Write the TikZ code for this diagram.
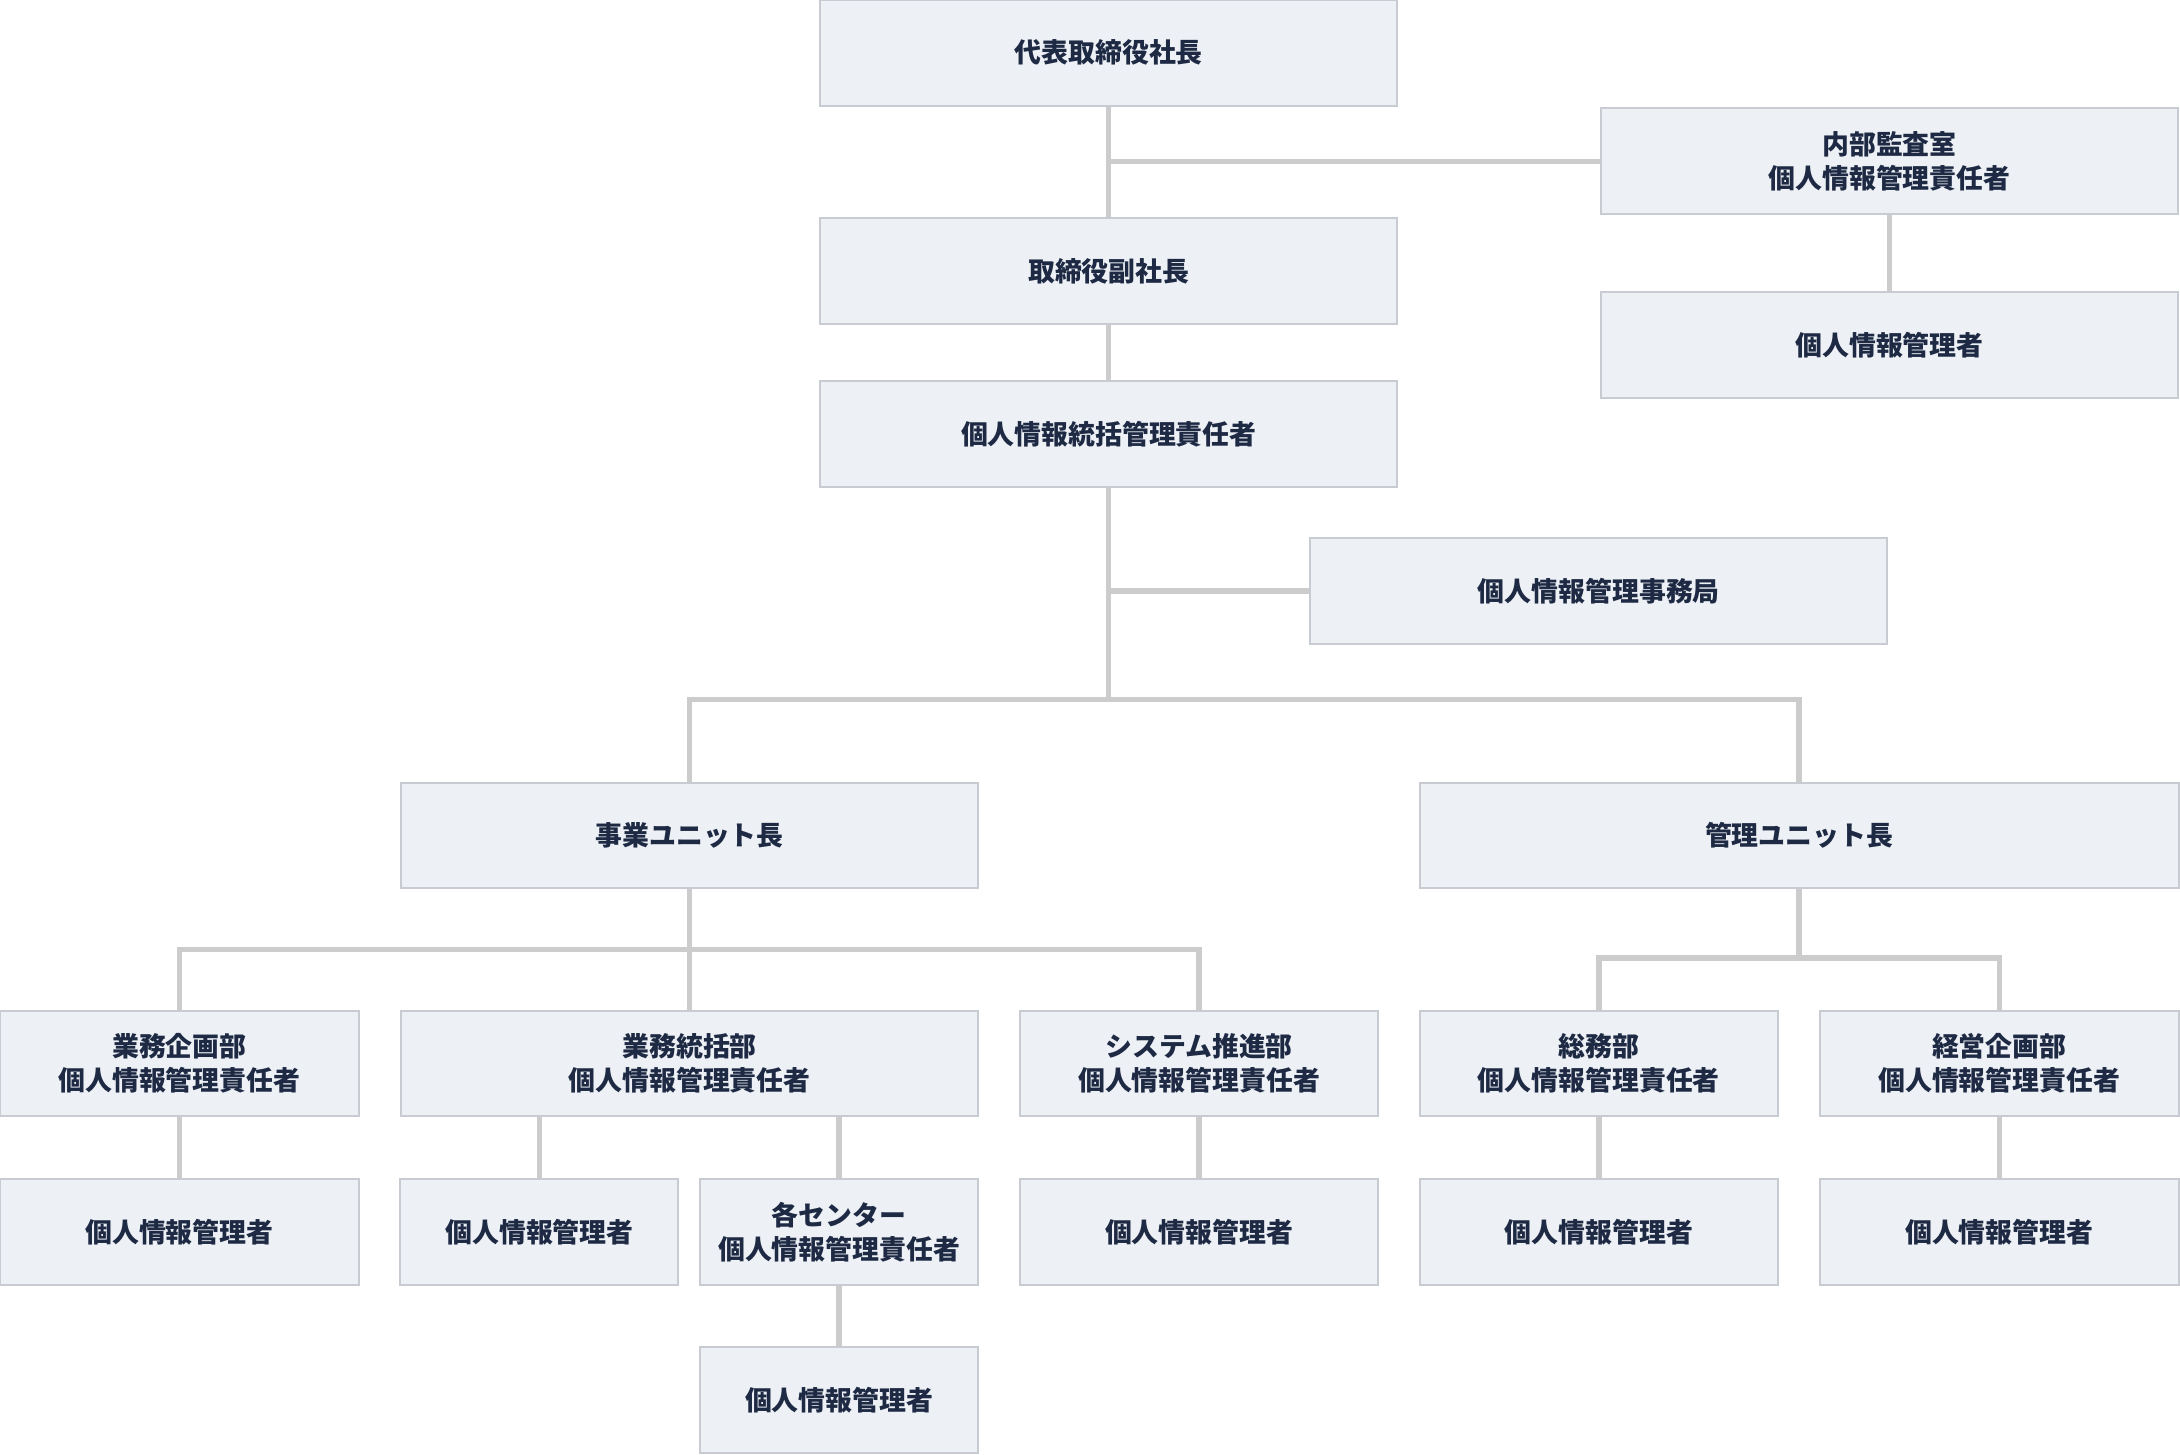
\documentclass[tikz,border=0pt]{standalone}
\usepackage{fontspec}
\setmainfont{Noto Sans CJK JP}
\usetikzlibrary{positioning}
\definecolor{boxfill}{HTML}{EDF0F5}
\definecolor{boxline}{HTML}{C8CCD2}
\definecolor{linkgray}{HTML}{CCCCCC}
\definecolor{textnavy}{HTML}{1E2A44}
\tikzset{orgbox/.style={draw=boxline, fill=boxfill, line width=0.8pt, text=textnavy,
                        font=\fontsize{11}{14}\selectfont\bfseries, align=center,
                        minimum height=1.52cm, inner sep=0pt},
         wide/.style={orgbox, minimum width=8.3cm},
         narrow/.style={orgbox, minimum width=5.16cm},
         small/.style={orgbox, minimum width=4cm},
         link/.style={draw=linkgray, line width=2.2pt}}
\begin{document}
\begin{tikzpicture}[x=0.02cm, y=-0.02cm]
    \useasboundingbox (0,0) rectangle (1568,1046);
    % top levels
    \node[wide] (ceo) at (797.5,38) {代表取締役社長};
    \node[wide] (vp) at (797.5,195) {取締役副社長};
    \node[wide] (cpo) at (797.5,312) {個人情報統括管理責任者};
    \node[wide] (audit) at (1359,116) {内部監査室\\個人情報管理責任者};
    \node[wide] (auditmgr) at (1359,248) {個人情報管理者};
    \node[wide] (office) at (1150,425) {個人情報管理事務局};
    % units
    \node[wide] (biz) at (496,601) {事業ユニット長};
    \node[orgbox, minimum width=10.92cm] (mgmt) at (1294,601) {管理ユニット長};
    % departments
    \node[narrow] (plan) at (129,765) {業務企画部\\個人情報管理責任者};
    \node[wide] (ctrl) at (496,765) {業務統括部\\個人情報管理責任者};
    \node[narrow] (sys) at (862.5,765) {システム推進部\\個人情報管理責任者};
    \node[narrow] (gen) at (1150,765) {総務部\\個人情報管理責任者};
    \node[narrow] (corp) at (1438,765) {経営企画部\\個人情報管理責任者};
    % managers
    \node[narrow] (planmgr) at (129,886) {個人情報管理者};
    \node[small] (ctrlmgr) at (388,886) {個人情報管理者};
    \node[small] (center) at (603.5,886) {各センター\\個人情報管理責任者};
    \node[narrow] (sysmgr) at (862.5,886) {個人情報管理者};
    \node[narrow] (genmgr) at (1150,886) {個人情報管理者};
    \node[narrow] (corpmgr) at (1438,886) {個人情報管理者};
    \node[small] (centermgr) at (603.5,1007) {個人情報管理者};
    % joints
    \coordinate (unitbar) at (797.5,503);
    \coordinate (bizbar) at (496,683);
    \coordinate (mgmtbar) at (1294,689);
    % connectors
    \draw[link] (ceo) -- (vp);
    \draw[link] (audit.west) -- (audit.west -| ceo.south);
    \draw[link] (audit) -- (auditmgr);
    \draw[link] (vp) -- (cpo);
    \draw[link] (cpo.south) -- (unitbar);
    \draw[link] (office.west) -- (office.west -| cpo.south);
    \draw[link] (biz.north) |- (unitbar) -| (mgmt.north);
    \draw[link] (biz.south) -- (bizbar);
    \draw[link] (plan.north) |- (bizbar) -| (sys.north);
    \draw[link] (bizbar) -- (ctrl.north);
    \draw[link] (mgmt.south) -- (mgmtbar);
    \draw[link] (gen.north) |- (mgmtbar) -| (corp.north);
    \draw[link] (plan) -- (planmgr);
    \draw[link] (ctrl.south -| ctrlmgr.north) -- (ctrlmgr);
    \draw[link] (ctrl.south -| center.north) -- (center);
    \draw[link] (sys) -- (sysmgr);
    \draw[link] (gen) -- (genmgr);
    \draw[link] (corp) -- (corpmgr);
    \draw[link] (center) -- (centermgr);
\end{tikzpicture}
\end{document}
